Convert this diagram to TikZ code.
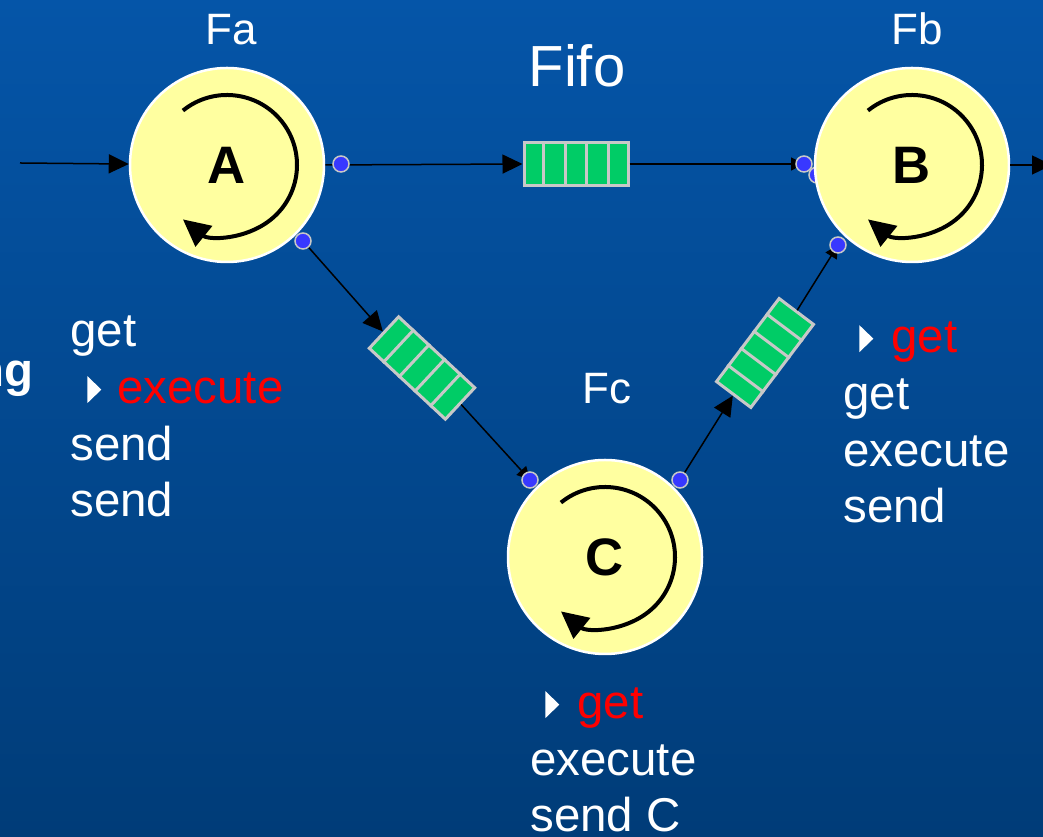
\documentclass[tikz,border=0pt]{standalone}
\usepackage{fontspec}
\setmainfont{Liberation Sans}
\usepackage{tikz}
\usetikzlibrary{arrows.meta,positioning,calc}
\definecolor{bgtop}{HTML}{0555A8}
\definecolor{bgbot}{HTML}{003C78}
\definecolor{procfill}{HTML}{FFFFA0}
\definecolor{portblue}{HTML}{3838FF}
\definecolor{fifogreen}{HTML}{00CC66}
\definecolor{fifoedge}{HTML}{C8C8C8}
\newcommand{\tri}{\tikz[baseline=0pt]\fill[white] (0,0) -- (0,5.4mm) -- (2.8mm,2.7mm) -- cycle;}

\begin{document}
\begin{tikzpicture}[x=0.2mm,y=0.2mm,font=\fontsize{27}{32.4}\selectfont,
 proc/.style={circle,draw=white,line width=.5mm,fill=procfill,minimum size=38.8mm,inner sep=0pt,font=\bfseries\fontsize{30}{36}\selectfont},
 port/.style={circle,draw=fifoedge,line width=.3mm,fill=portblue,minimum size=3.2mm,inner sep=0pt},
 fifo/.style={rectangle,draw=fifoedge,line width=.6mm,fill=fifogreen,minimum width=20.8mm,minimum height=8.6mm,inner sep=0pt},
 ar/.style={-{Triangle[length=4mm,width=3.8mm]},line width=.3mm,draw=black},
 arp/.style={-{Triangle[length=2.6mm,width=2.6mm]},line width=.3mm,draw=black},
 cyc/.style={-{Triangle[length=5.4mm,width=5.2mm]},line width=.8mm},
 lst/.style={white,align=left,anchor=base west,inner sep=0pt},
 ttl/.style={white,anchor=base,inner sep=0pt,font=\fontsize{25}{30}\selectfont}]
\useasboundingbox (0,0) rectangle (1043,837);
\shade[top color=bgtop,bottom color=bgbot] (0,0) rectangle (1043,837);
% processes
\node[port] (pBh) at (817,662) {};
\node[proc] (A) at (227,672) {A};
\node[proc] (B) at (912,672) {B};
\node[proc] (C) at (605,280) {C};
\foreach \n in {A,B,C}
 \draw[cyc] (\n.center) ++(129:70) arc[start angle=129,end angle=-129,radius=70];
\node[ttl] (tA) at (231,792) {Fa};
\node[ttl] (tB) at (917,792) {Fb};
\node[ttl] (tC) at (607,433) {Fc};
\node[ttl,font=\fontsize{33}{40}\selectfont] (tF) at (577,750) {Fifo};
% fifos
\node[fifo] (fifoAB) at (576,673) {};
\node[fifo,rotate=-43] (fifoAC) at (422,469) {};
\node[fifo,rotate=53] (fifoCB) at (765,484) {};
\foreach \f in {fifoAB,fifoAC,fifoCB}
 \foreach \k in {1,...,4}
  \draw[fifoedge,line width=.6mm] ($(\f.north west)!\k/5!(\f.north east)$) -- ($(\f.south west)!\k/5!(\f.south east)$);
% ports and connectors
\coordinate (src) at (20,674);
\coordinate (snk) at (1052,672);
\coordinate (pArc) at (341,673);
\coordinate (pAdc) at (303,596);
\coordinate (pBlc) at (804,673);
\coordinate (pBdc) at (838,592);
\coordinate (pClc) at (530,357);
\coordinate (pCrc) at (680,357);
\draw[ar] (src) -- (A);
\draw[ar] (B) -- (snk);
\draw[ar] (A.east) -- (fifoAB.west);
\draw[arp] (fifoAB.east) -- (pBlc);
\draw[ar] (pAdc) -- (fifoAC.west);
\draw[arp] (fifoAC.east) -- (pClc);
\draw[ar] (pCrc) -- (fifoCB.west);
\draw[arp] (fifoCB.east) -- (pBdc);
\node[port] (pAr) at (pArc) {};
\node[port] (pAd) at (pAdc) {};
\node[port] (pBl) at (pBlc) {};
\node[port] (pBd) at (pBdc) {};
\node[port] (pCl) at (pClc) {};
\node[port] (pCr) at (pCrc) {};
% step lists (base = last line)
\node[white,anchor=base east,inner sep=0pt,font=\bfseries\fontsize{27}{32}\selectfont] (cut) at (34,450) {ng};
\node[lst] (listA) at (70,320) {get\\\hspace*{3.4mm}\tri\hspace{3.2mm}\textcolor{red}{execute}\\send\\send};
\node[lst] (listB) at (843,314) {\hspace*{3.2mm}\tri\hspace{3.6mm}\textcolor{red}{get}\\get\\execute\\send};
\node[lst] (listC) at (530,5) {\hspace*{3mm}\tri\hspace{3.6mm}\textcolor{red}{get}\\execute\\send C};
\end{tikzpicture}
\end{document}
